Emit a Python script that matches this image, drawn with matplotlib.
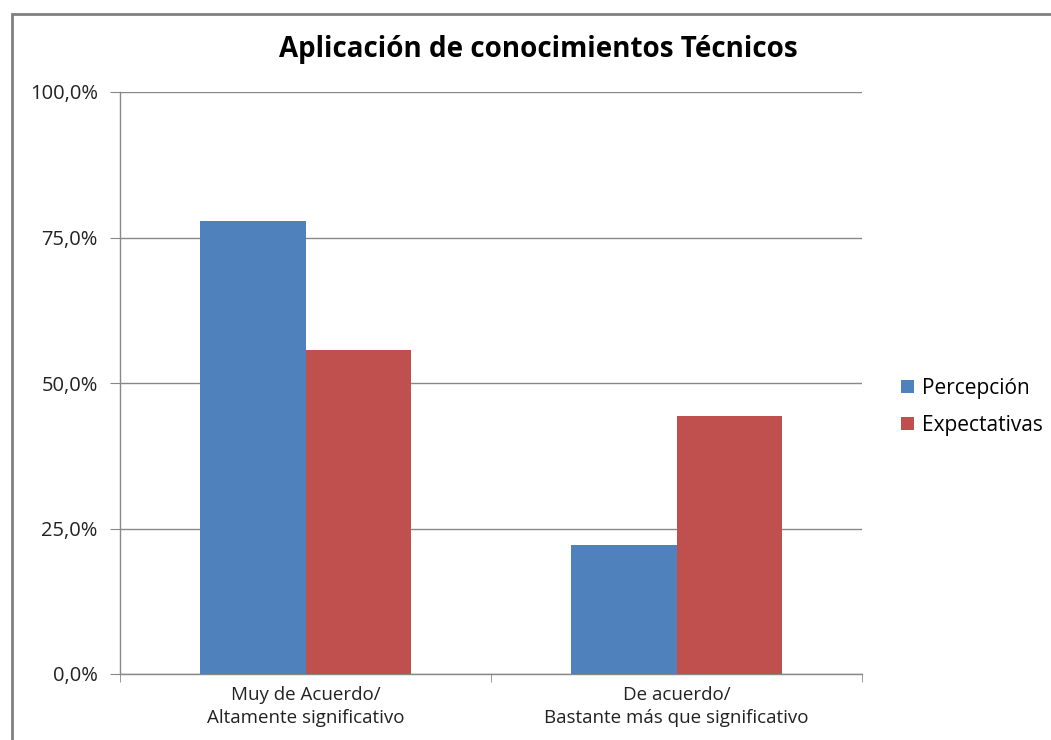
import matplotlib.pyplot as plt
import numpy as np
from matplotlib.patches import Rectangle
from matplotlib.ticker import FuncFormatter

categories = ["Muy de Acuerdo/\nAltamente significativo",
              "De acuerdo/\nBastante más que significativo"]
percepcion = [77.8, 22.2]
expectativas = [55.6, 44.4]
series_names = ["Percepción", "Expectativas"]
y_ticks = [0, 25, 50, 75, 100]

plt.rcParams["font.family"] = ["Open Sans", "DejaVu Sans"]

fig = plt.figure(figsize=(10.51, 7.40), dpi=100)
ax = fig.add_axes([120 / 1051, 66 / 740, 742 / 1051, 582 / 740])

x = np.arange(len(categories)) + 0.5
w = 0.2857
ax.bar(x - w / 2, percepcion, w, color="#4f81bd", label=series_names[0], zorder=3)
ax.bar(x + w / 2, expectativas, w, color="#c0504d", label=series_names[1], zorder=3)

ax.set_xlim(0, 2)
ax.set_ylim(0, 100)
ax.set_yticks(y_ticks)
ax.yaxis.set_major_formatter(FuncFormatter(lambda v, p: f"{v:.1f}%".replace(".", ",")))
ax.set_xticks(x)
ax.set_xticklabels(categories, fontsize=13.5, color="#222222", linespacing=1.3)
ax.tick_params(axis="x", length=0, pad=9)
ax.set_xticks([0, 1, 2], minor=True)
ax.tick_params(axis="x", which="minor", length=6, color="#888888", direction="out")
ax.tick_params(axis="y", length=7, color="#888888", labelsize=14.5, pad=9, labelcolor="#222222")
ax.grid(axis="y", color="#888888", linewidth=1, zorder=0)

for s in ["top", "right"]:
    ax.spines[s].set_visible(False)
for s in ["left", "bottom"]:
    ax.spines[s].set_color("#888888")
    ax.spines[s].set_linewidth(1)

fig.text(538 / 1051, 1 - 50 / 740, "Aplicación de conocimientos Técnicos",
         ha="center", va="center", fontsize=20, fontweight="bold")

fig.legend(loc="center left", bbox_to_anchor=(901 / 1051, 1 - 407 / 740), frameon=False,
           fontsize=15, handlelength=0.6, handleheight=0.6, labelspacing=0.75,
           handletextpad=0.4, borderaxespad=0, borderpad=0)

frame = Rectangle((12 / 1051, -0.1), 1.2, 1 - 14 / 740 + 0.1, transform=fig.transFigure,
                  fill=False, edgecolor="#808080", linewidth=2, clip_on=False)
fig.patches.append(frame)

fig.savefig("out.png", dpi=100)
